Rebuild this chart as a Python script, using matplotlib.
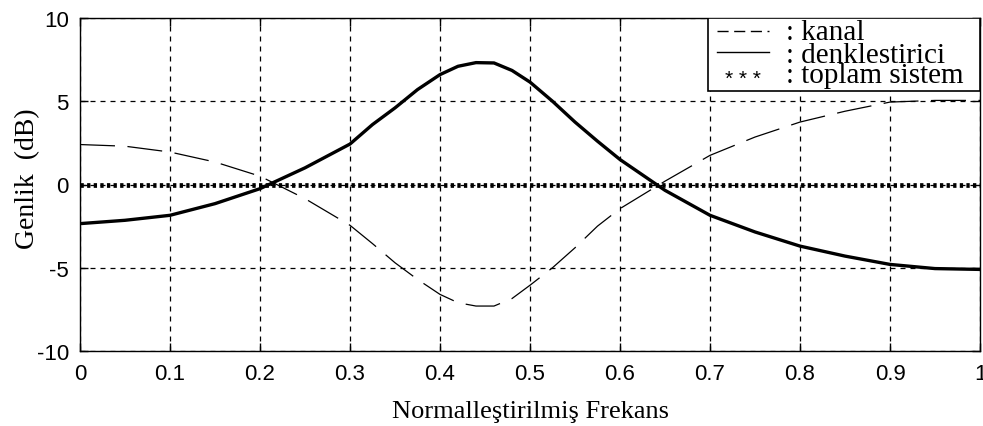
import matplotlib
matplotlib.use("Agg")
import matplotlib.pyplot as plt
from matplotlib.patches import Rectangle
from matplotlib.lines import Line2D

# normalised frequency and the three responses (dB)
frekans = [0.00, 0.05, 0.10, 0.15, 0.20, 0.25, 0.30, 0.325, 0.35, 0.375,
           0.40, 0.42, 0.44, 0.46, 0.48, 0.50, 0.525, 0.55, 0.575, 0.60,
           0.65, 0.70, 0.75, 0.80, 0.85, 0.90, 0.95, 1.00]
kanal = [2.4, 2.3, 1.95, 1.35, 0.5, -0.85, -2.45, -3.55, -4.7, -5.7,
         -6.6, -7.1, -7.3, -7.3, -6.85, -6.05, -5.0, -3.8, -2.5, -1.45,
         0.2, 1.75, 2.85, 3.75, 4.4, 4.95, 5.05, 5.05]
denk = [-2.35, -2.15, -1.85, -1.15, -0.25, 1.0, 2.43, 3.6, 4.6, 5.7,
        6.6, 7.1, 7.32, 7.3, 6.85, 6.15, 5.0, 3.75, 2.6, 1.5,
        -0.35, -1.85, -2.85, -3.7, -4.3, -4.8, -5.05, -5.1]
toplam = [0.0 for _ in frekans]

xticks = [0, 0.1, 0.2, 0.3, 0.4, 0.5, 0.6, 0.7, 0.8, 0.9, 1]
xticklabels = ["0", "0.1", "0.2", "0.3", "0.4", "0.5", "0.6", "0.7", "0.8", "0.9", "1"]
yticks = [-10, -5, 0, 5, 10]
leg_labels = [": kanal", ": denklestirici", ": toplam sistem"]

serif = ["Liberation Serif", "DejaVu Serif"]
sans = ["Liberation Sans", "DejaVu Sans"]

fig = plt.figure(figsize=(9.83, 4.27), dpi=100)
ax = fig.add_axes([80/983, 1 - 352/427, 900/983, 333/427])

ax.plot(frekans, kanal, color="black", lw=0.9, linestyle=(0, (28, 10)))
ax.plot(frekans, denk, color="black", lw=2.4, solid_joinstyle="round")
ax.plot(frekans, toplam, color="black", lw=3.4, linestyle=(0, (0.7, 0.7)))

ax.set_xlim(0, 1)
ax.set_ylim(-10, 10)
ax.set_xticks(xticks)
ax.set_xticklabels(xticklabels, family=sans, fontsize=16)
ax.set_yticks(yticks)
ax.set_yticklabels([str(v) for v in yticks], family=sans, fontsize=16)
ax.tick_params(axis="x", direction="in", length=6, width=1, top=True, pad=9)
ax.tick_params(axis="y", direction="in", length=6, width=1, right=True, pad=8)
ax.grid(True, color="black", lw=0.9, linestyle=(0, (4, 4)))
for s in ax.spines.values():
    s.set_linewidth(1.0)

ax.set_xlabel("Normalleştirilmiş Frekans", family=serif, fontsize=19, labelpad=11)
ax.set_ylabel("Genlik  (dB)", family=serif, fontsize=20)
ax.yaxis.set_label_coords(-0.044, 0.52)

# legend box drawn in the MATLAB style, top right corner
ax.add_patch(Rectangle((0.698, 0.781), 0.302, 0.219, transform=ax.transAxes,
                       facecolor="white", edgecolor="black", lw=1.2, zorder=5))
rows = [0.937, 0.868, 0.808]
ax.add_line(Line2D([0.708, 0.765], [0.96, 0.96], transform=ax.transAxes,
                   color="black", lw=1.0, linestyle=(0, (8, 4)), zorder=6))
ax.add_line(Line2D([0.708, 0.765], [0.898, 0.898], transform=ax.transAxes,
                   color="black", lw=1.0, zorder=6))
ax.text(0.737, 0.818, "* * *", transform=ax.transAxes, ha="center",
        va="center", fontsize=15, family=sans, zorder=6)
for r, lab in zip(rows, leg_labels):
    ax.text(0.785, r, lab, transform=ax.transAxes, ha="left", va="baseline",
            fontsize=21, family=serif, zorder=6)

fig.savefig("out.png", dpi=100)
